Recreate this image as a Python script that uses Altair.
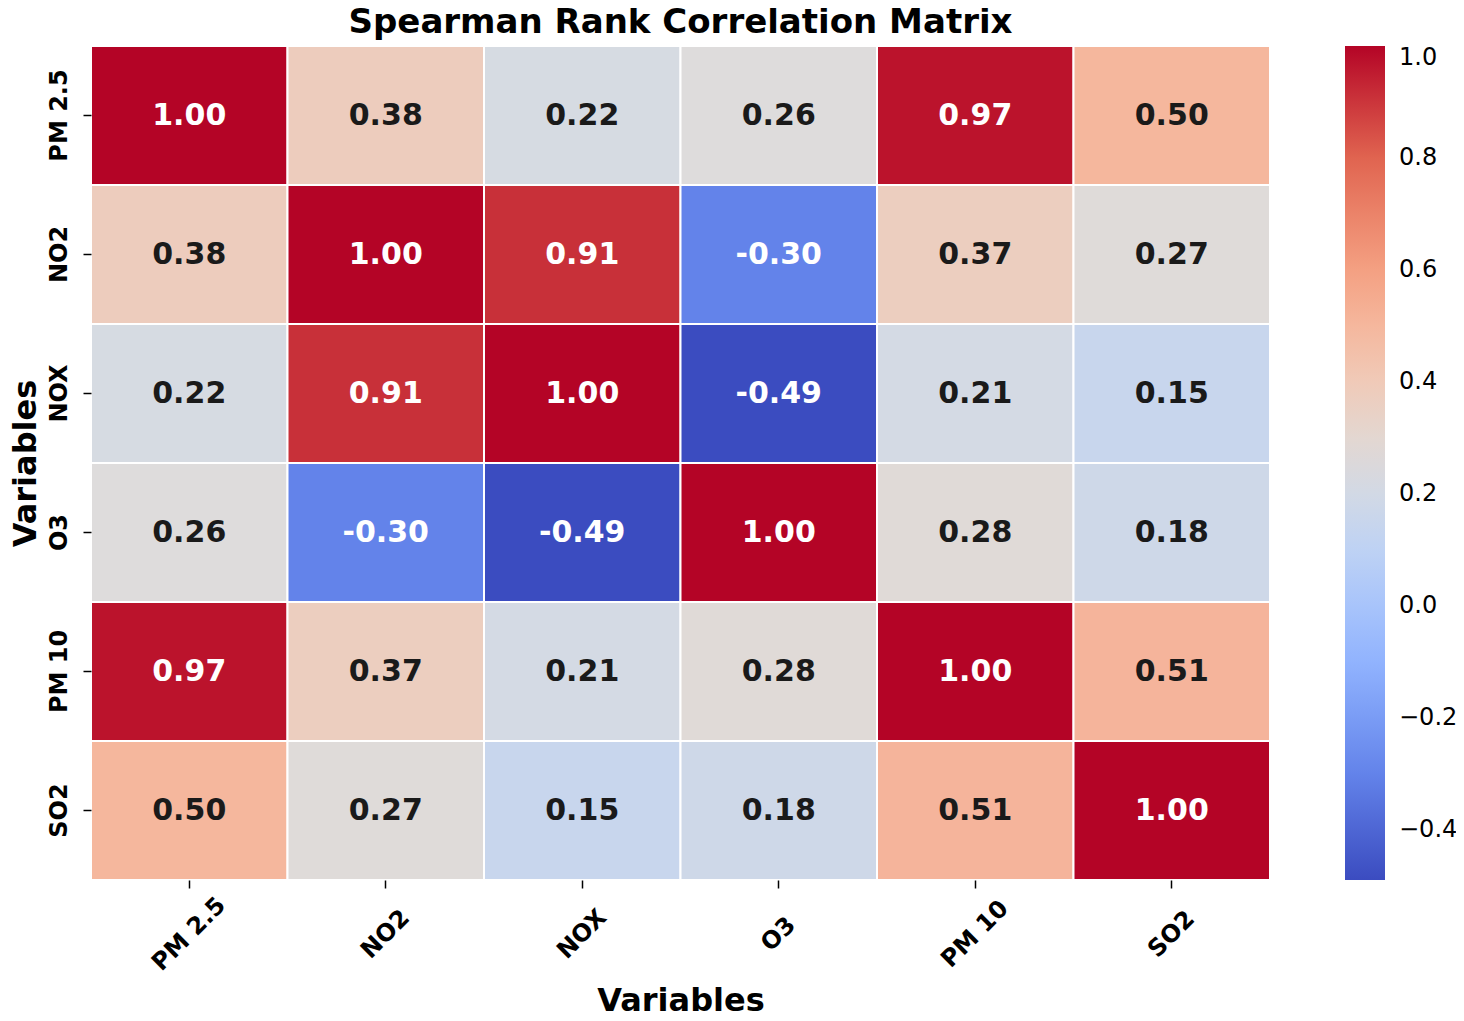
import altair as alt
import pandas as pd

variables = ["PM 2.5", "NO2", "NOX", "O3", "PM 10", "SO2"]
corr = [
    [1.00, 0.38, 0.22, 0.26, 0.97, 0.50],
    [0.38, 1.00, 0.91, -0.30, 0.37, 0.27],
    [0.22, 0.91, 1.00, -0.49, 0.21, 0.15],
    [0.26, -0.30, -0.49, 1.00, 0.28, 0.18],
    [0.97, 0.37, 0.21, 0.28, 1.00, 0.51],
    [0.50, 0.27, 0.15, 0.18, 0.51, 1.00],
]
legend_ticks = [-0.4, -0.2, 0.0, 0.2, 0.4, 0.6, 0.8, 1.0]
title_text = ["Spearman Rank Correlation Matrix"]

rows = []
for i, rv in enumerate(variables):
    for j, cv in enumerate(variables):
        v = corr[i][j]
        rows.append({"row": rv, "col": cv, "value": v, "label": f"{v:.2f}"})
df = pd.DataFrame(rows)

vmin, vmax = -0.49, 1.0
coolwarm = ["#3b4cc0", "#6282ea", "#8db0fe", "#b8d0f9", "#dddddd",
            "#f5c4ad", "#f49a7b", "#de604d", "#b40426"]
stops = [vmin + (vmax - vmin) * k / 8 for k in range(9)]

FONT = "DejaVu Sans"
W, H = 1179, 834

x_enc = alt.X("col:N", sort=variables, scale=alt.Scale(paddingInner=0, paddingOuter=0),
              axis=alt.Axis(title="Variables", titleFont=FONT, titleFontSize=32, titleFontWeight="bold",
                            titleColor="black", titleY=130, titleBaseline="alphabetic",
                            labelFont=FONT, labelFontSize=24, labelFontWeight="bold", labelColor="black",
                            labelAngle=-45, labelAlign="center", labelBaseline="middle",
                            labelPadding=46, tickSize=8, tickWidth=1.5, tickColor="black",
                            domain=False, labelOverlap=False, labelBound=False))
y_enc = alt.Y("row:N", sort=variables, scale=alt.Scale(paddingInner=0, paddingOuter=0),
              axis=alt.Axis(title="Variables", titleFont=FONT, titleFontSize=32, titleFontWeight="bold",
                            titleColor="black", titleX=-56, titleBaseline="alphabetic", titleAngle=-90,
                            labelFont=FONT, labelFontSize=24, labelFontWeight="bold", labelColor="black",
                            labelAngle=-90, labelAlign="center", labelBaseline="bottom",
                            labelPadding=12, tickSize=8, tickWidth=1.5, tickColor="black",
                            domain=False, labelOverlap=False, labelBound=False))

rects = alt.Chart(df).mark_rect(stroke="white", strokeWidth=2).encode(
    x=x_enc,
    y=y_enc,
    color=alt.Color("value:Q",
                    scale=alt.Scale(domain=stops, range=coolwarm, interpolate="rgb"),
                    legend=alt.Legend(title=None, orient="right", offset=75, padding=0,
                                      gradientLength=H, gradientThickness=40,
                                      gradientStrokeWidth=0, values=legend_ticks,
                                      labelExpr="replace(format(datum.value, '.1f'), '-', '\u2212')",
                                      labelFont=FONT, labelFontSize=24, labelColor="black",
                                      labelOffset=14, labelOverlap=False)),
)

texts = alt.Chart(df).mark_text(font=FONT, fontSize=30, fontWeight="bold").encode(
    x=alt.X("col:N", sort=variables),
    y=alt.Y("row:N", sort=variables),
    text=alt.Text("label:N"),
    color=alt.condition("datum.value > 0.6 || datum.value < -0.2", alt.value("white"), alt.value("#1a1a1a")),
)

title = alt.Chart(pd.DataFrame({"t": title_text})).mark_text(
    font=FONT, fontSize=34, fontWeight="bold", color="black", align="center", baseline="alphabetic"
).encode(text="t:N", x=alt.value(W / 2), y=alt.value(-13))

chart = (rects + texts + title).properties(
    width=W, height=H,
    padding={"left": 83, "top": 38, "right": 186, "bottom": 133},
    autosize=alt.AutoSizeParams(type="none"),
).configure_view(stroke=None)

chart.save("out.html", embed_options={"renderer": "svg", "actions": False})
